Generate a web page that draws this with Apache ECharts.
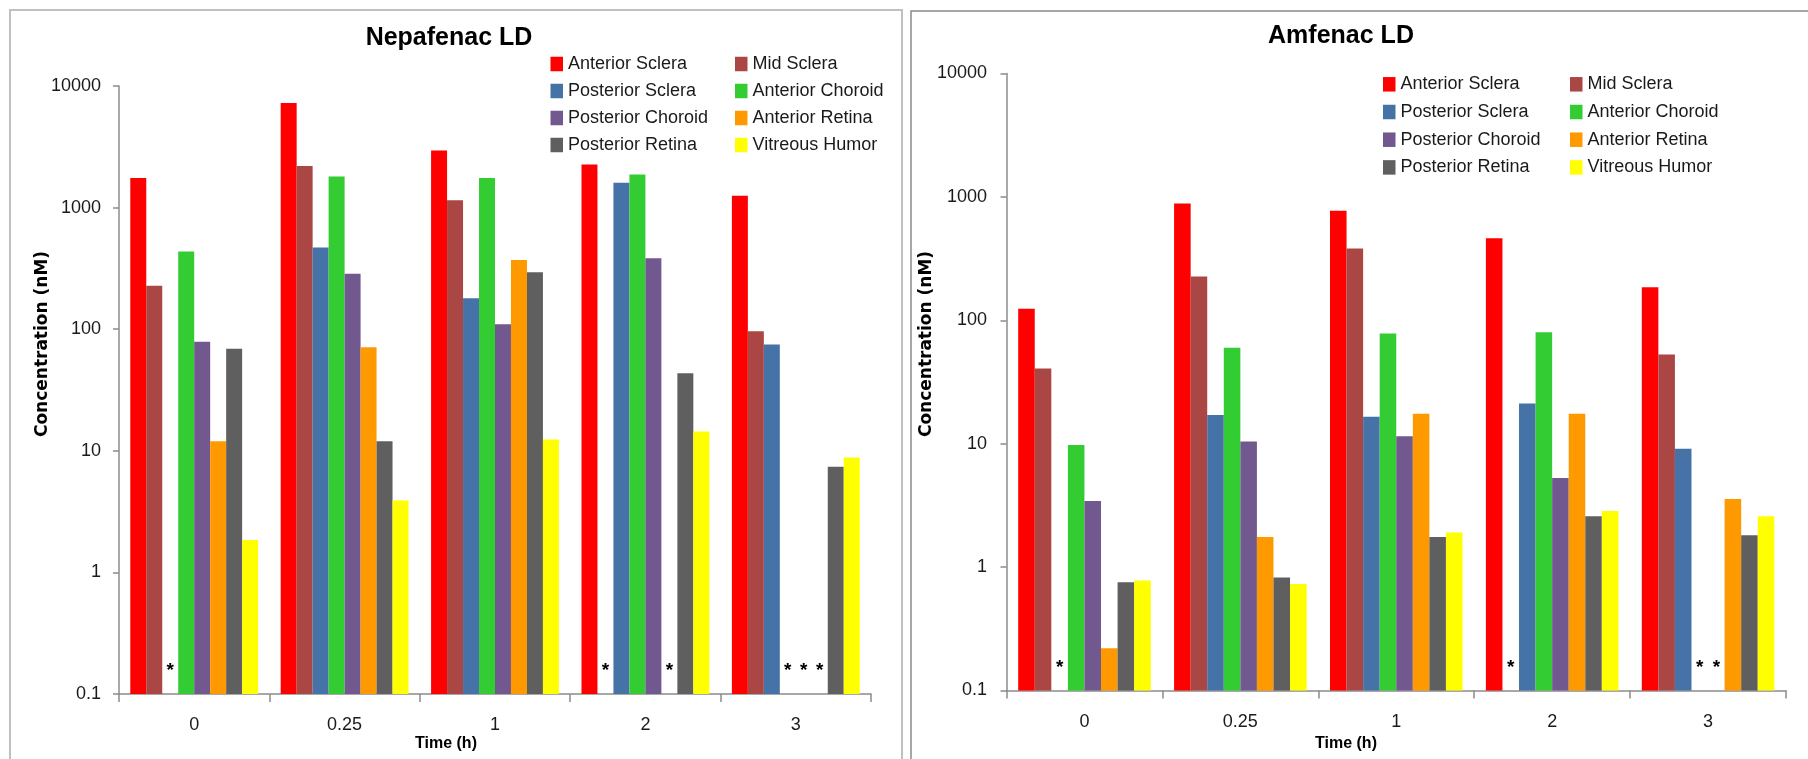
<!DOCTYPE html>
<html>
<head>
<meta charset="utf-8">
<script src="https://cdn.jsdelivr.net/npm/echarts@6/dist/echarts.min.js"></script>
<style>
  html, body { margin: 0; padding: 0; background: #ffffff; }
  #chart { width: 1808px; height: 759px; }
</style>
</head>
<body>
<div id="chart"></div>
<script>
// Sampling times (h) and tissues
const timePoints = ['0', '0.25', '1', '2', '3'];
const tissues = ['Anterior Sclera', 'Mid Sclera', 'Posterior Sclera', 'Anterior Choroid',
                 'Posterior Choroid', 'Anterior Retina', 'Posterior Retina', 'Vitreous Humor'];
const tissueColors = ['#FF0000', '#AA4643', '#4572A7', '#33CC33',
                      '#71588F', '#FF9900', '#5F5F5F', '#FFFF00'];
const yMin = 0.1;
const yMax = 10000;

// Nepafenac LD concentrations (nM); null = below limit, marked with *
const nepAnteriorSclera   = [1750, 7250, 2950, 2260, 1250];
const nepMidSclera        = [228, 2200, 1150, null, 96];
const nepPosteriorSclera  = [null, 470, 180, 1600, 75];
const nepAnteriorChoroid  = [436, 1800, 1755, 1870, null];
const nepPosteriorChoroid = [79, 286, 110, 384, null];
const nepAnteriorRetina   = [12, 71, 370, null, null];
const nepPosteriorRetina  = [69, 12, 294, 43.5, 7.4];
const nepVitreousHumor    = [1.85, 3.9, 12.4, 14.4, 8.8];

// Amfenac LD concentrations (nM); null = below limit, marked with *
const amfAnteriorSclera   = [124, 885, 773, 462, 185];
const amfMidSclera        = [40.6, 226, 382, null, 52.8];
const amfPosteriorSclera  = [null, 17.1, 16.5, 21.2, 9.1];
const amfAnteriorChoroid  = [9.75, 60, 78, 80, null];
const amfPosteriorChoroid = [3.44, 10.4, 11.5, 5.27, null];
const amfAnteriorRetina   = [0.22, 1.75, 17.5, 17.5, 3.57];
const amfPosteriorRetina  = [0.755, 0.825, 1.75, 2.58, 1.81];
const amfVitreousHumor    = [0.78, 0.73, 1.91, 2.85, 2.58];

const nepafenac = [nepAnteriorSclera, nepMidSclera, nepPosteriorSclera, nepAnteriorChoroid,
                   nepPosteriorChoroid, nepAnteriorRetina, nepPosteriorRetina, nepVitreousHumor];
const amfenac = [amfAnteriorSclera, amfMidSclera, amfPosteriorSclera, amfAnteriorChoroid,
                 amfPosteriorChoroid, amfAnteriorRetina, amfPosteriorRetina, amfVitreousHumor];

const FONT = '"Liberation Sans", Arial, sans-serif';
const CAT_GAP = 0.15;          // share of each category band left empty
const AXIS_COLOR = '#8C8C8C';

// Grouped bars on a log axis, each bar rising from the axis minimum.
function makeRenderer(values, k, color) {
  return function (params, api) {
    const i = api.value(0);
    const band = api.coord([1, yMin])[0] - api.coord([0, yMin])[0];
    const base = api.coord([i, yMin]);
    const group = band * (1 - CAT_GAP);
    const w = group / tissues.length;
    const left = base[0] - group / 2 + k * w;
    const v = values[params.dataIndex];
    if (v == null) {
      return {
        type: 'text',
        x: left + w / 2,
        y: base[1] - 23,
        style: { text: '*', fill: '#000', font: 'bold 19px ' + FONT, align: 'center', verticalAlign: 'middle' }
      };
    }
    const top = api.coord([i, v])[1];
    return {
      type: 'rect',
      shape: { x: left, y: top, width: w, height: base[1] - top },
      style: { fill: color }
    };
  };
}

function buildSeries(dataSets, gridIndex) {
  return dataSets.map((values, k) => ({
    type: 'custom',
    name: tissues[k],
    xAxisIndex: gridIndex,
    yAxisIndex: gridIndex,
    itemStyle: { color: tissueColors[k] },
    renderItem: makeRenderer(values, k, tissueColors[k]),
    encode: { x: 0, y: 1 },
    data: timePoints.map((t, i) => [i, values[i] == null ? yMin : values[i]])
  }));
}

function xAxis(gridIndex, margin) {
  return {
    type: 'category', gridIndex: gridIndex, data: timePoints, boundaryGap: true,
    axisLine: { lineStyle: { color: AXIS_COLOR, width: 1.5 } },
    axisTick: { show: true, length: 8, lineStyle: { color: AXIS_COLOR, width: 1.5 } },
    axisLabel: { fontFamily: FONT, fontSize: 18, color: '#1a1a1a', margin: margin },
    splitLine: { show: false }
  };
}

function yAxis(gridIndex, margin) {
  return {
    type: 'log', logBase: 10, gridIndex: gridIndex, min: yMin, max: yMax,
    axisLine: { show: true, lineStyle: { color: AXIS_COLOR, width: 1.5 } },
    axisTick: { show: true, length: 6, lineStyle: { color: AXIS_COLOR, width: 1.5 } },
    axisLabel: {
      fontFamily: FONT, fontSize: 18, color: '#1a1a1a', margin: margin,
      formatter: (v) => String(+v.toPrecision(6))
    },
    splitLine: { show: false },
    minorTick: { show: false }
  };
}

function legendColumn(names, left, top, gap) {
  return {
    data: names, orient: 'vertical', left: left, top: top, padding: 0,
    itemGap: gap, itemWidth: 12.5, itemHeight: 14.5, icon: 'rect',
    selectedMode: false,
    textStyle: { fontFamily: FONT, fontSize: 18, color: '#1a1a1a', lineHeight: 18, padding: [0, 0, 0, 0] }
  };
}

const col1 = [tissues[0], tissues[2], tissues[4], tissues[6]];
const col2 = [tissues[1], tissues[3], tissues[5], tissues[7]];

function label(text, x, y, font, rotation) {
  return {
    type: 'text', x: x, y: y, rotation: rotation || 0, silent: true,
    style: { text: text, font: font, fill: '#000', align: 'center', verticalAlign: 'middle' }
  };
}

const chart = echarts.init(document.getElementById('chart'), null, { renderer: 'canvas' });
chart.setOption({
  animation: false,
  color: tissueColors,
  grid: [
    { left: 119, top: 86, width: 752, height: 608 },
    { left: 1006.5, top: 73.5, width: 779.5, height: 617 }
  ],
  xAxis: [xAxis(0, 22), xAxis(1, 23)],
  yAxis: [yAxis(0, 18), yAxis(1, 19.5)],
  legend: [
    legendColumn(col1, 550.5, 55, 9),
    legendColumn(col2, 735, 55, 9),
    legendColumn(col1, 1383, 75.3, 9.7),
    legendColumn(col2, 1570, 75.3, 9.7)
  ],
  graphic: [
    // panel frames
    { type: 'rect', silent: true, shape: { x: 10, y: 10, width: 892, height: 780 },
      style: { fill: 'none', stroke: '#C0C0C0', lineWidth: 2 } },
    { type: 'rect', silent: true, shape: { x: 911, y: 11, width: 960, height: 780 },
      style: { fill: 'none', stroke: '#8A8A8A', lineWidth: 1.5 } },
    // titles
    label('Nepafenac LD', 449, 38, 'bold 25px ' + FONT),
    label('Amfenac LD', 1341, 36, 'bold 25px ' + FONT),
    // axis names
    label('Concentration (nM)', 43, 344, 'bold 17px "DejaVu Sans", ' + FONT, Math.PI / 2),
    label('Concentration (nM)', 927, 344, 'bold 17px "DejaVu Sans", ' + FONT, Math.PI / 2),
    label('Time (h)', 446, 744, 'bold 16px ' + FONT),
    label('Time (h)', 1346, 744, 'bold 16px ' + FONT)
  ],
  series: buildSeries(nepafenac, 0).concat(buildSeries(amfenac, 1))
});
</script>
</body>
</html>
